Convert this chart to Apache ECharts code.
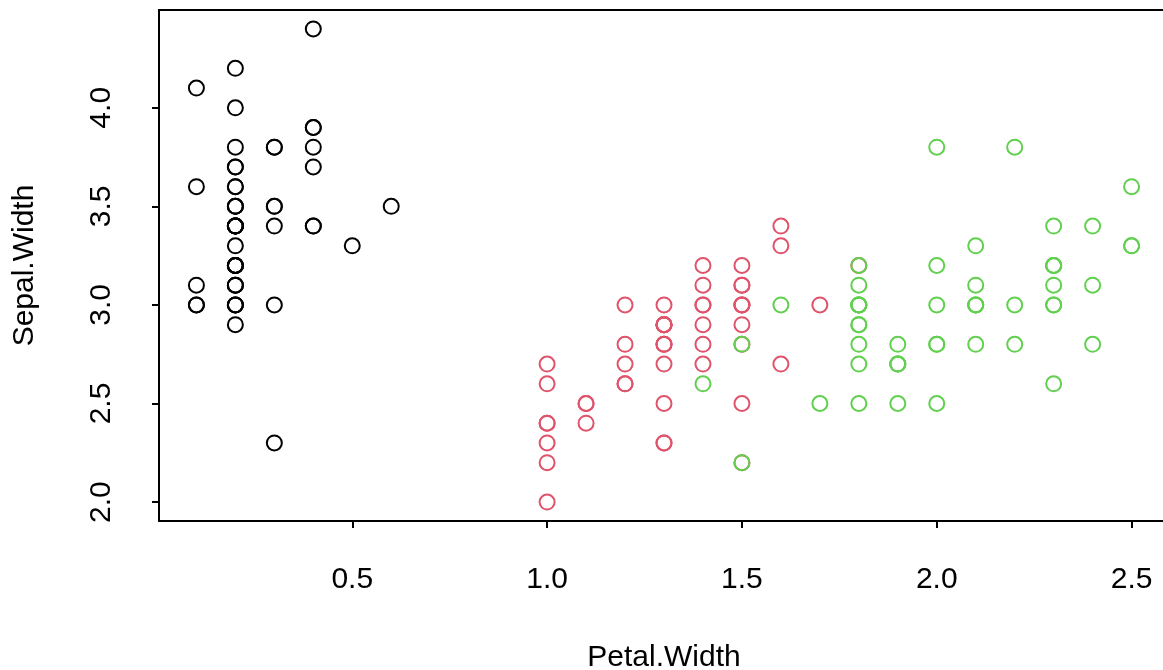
<!DOCTYPE html>
<html>
<head>
<meta charset="utf-8">
<script src="https://cdn.jsdelivr.net/npm/echarts@6/dist/echarts.min.js"></script>
<style>
  html,body{margin:0;padding:0;background:#fff;}
  #main{width:1163px;height:670px;}
</style>
</head>
<body>
<div id="main"></div>
<script>
// iris: Petal.Width (x) / Sepal.Width (y), per species
const setosaPetal = [0.2,0.2,0.2,0.2,0.2,0.4,0.3,0.2,0.2,0.1,0.2,0.2,0.1,0.1,0.2,0.4,0.4,0.3,0.3,0.3,0.2,0.4,0.2,0.5,0.2,0.2,0.4,0.2,0.2,0.2,0.2,0.4,0.1,0.2,0.2,0.2,0.2,0.1,0.2,0.2,0.3,0.3,0.2,0.6,0.4,0.3,0.2,0.2,0.2,0.2]
const setosaSepal = [3.5,3.0,3.2,3.1,3.6,3.9,3.4,3.4,2.9,3.1,3.7,3.4,3.0,3.0,4.0,4.4,3.9,3.5,3.8,3.8,3.4,3.7,3.6,3.3,3.4,3.0,3.4,3.5,3.4,3.2,3.1,3.4,4.1,4.2,3.1,3.2,3.5,3.6,3.0,3.4,3.5,2.3,3.2,3.5,3.8,3.0,3.8,3.2,3.7,3.3]

const versicolorPetal = [1.4,1.5,1.5,1.3,1.5,1.3,1.6,1.0,1.3,1.4,1.0,1.5,1.0,1.4,1.3,1.4,1.5,1.0,1.5,1.1,1.8,1.3,1.5,1.2,1.3,1.4,1.4,1.7,1.5,1.0,1.1,1.0,1.2,1.6,1.5,1.6,1.5,1.3,1.3,1.3,1.2,1.4,1.2,1.0,1.3,1.2,1.3,1.3,1.1,1.3]
const versicolorSepal = [3.2,3.2,3.1,2.3,2.8,2.8,3.3,2.4,2.9,2.7,2.0,3.0,2.2,2.9,2.9,3.1,3.0,2.7,2.2,2.5,3.2,2.8,2.5,2.8,2.9,3.0,2.8,3.0,2.9,2.6,2.4,2.4,2.7,2.7,3.0,3.4,3.1,2.3,3.0,2.5,2.6,3.0,2.6,2.3,2.7,3.0,2.9,2.9,2.5,2.8]

const virginicaPetal = [2.5,1.9,2.1,1.8,2.2,2.1,1.7,1.8,1.8,2.5,2.0,1.9,2.1,2.0,2.4,2.3,1.8,2.2,2.3,1.5,2.3,2.0,2.0,1.8,2.1,1.8,1.8,1.8,2.1,1.6,1.9,2.0,2.2,1.5,1.4,2.3,2.4,1.8,1.8,2.1,2.4,2.3,1.9,2.3,2.5,2.3,1.9,2.0,2.3,1.8]
const virginicaSepal = [3.3,2.7,3.0,2.9,3.0,3.0,2.5,2.9,2.5,3.6,3.2,2.7,3.0,2.5,2.8,3.2,3.0,3.8,2.6,2.2,3.2,2.8,2.8,2.7,3.3,3.2,2.8,3.0,2.8,3.0,2.8,3.8,2.8,2.8,2.6,3.0,3.4,3.1,3.0,3.1,3.1,3.1,2.7,3.2,3.3,3.0,2.5,3.0,3.4,3.0]

const xTicks = [0.5,1.0,1.5,2.0,2.5]
const yTicks = [2.0,2.5,3.0,3.5,4.0]

const font = 'Liberation Sans, Arial, sans-serif'

function pts(xs, ys) {
  return xs.map((x, i) => [x, ys[i]])
}

function serie(name, xs, ys, color) {
  return {
    name: name,
    type: 'scatter',
    symbol: 'circle',
    symbolSize: 15,
    itemStyle: {
      color: 'rgba(0,0,0,0)',
      borderColor: color,
      borderWidth: 2,
      opacity: 1
    },
    emphasis: { disabled: true },
    data: pts(xs, ys)
  }
}

const myChart = echarts.init(document.getElementById('main'))

const option = {
  animation: false,
  grid: {
    left: 159,
    top: 10,
    width: 1010,
    height: 511,
    outerBoundsMode: 'none',
    containLabel: false,
    show: true,
    borderColor: '#000',
    borderWidth: 2,
    backgroundColor: 'transparent'
  },
  xAxis: {
    type: 'value',
    min: 0.004,
    max: 2.596,
    name: 'Petal.Width',
    nameLocation: 'middle',
    nameGap: 122,
    nameTextStyle: { color: '#000', fontSize: 30, fontFamily: font },
    axisLine: { show: true, lineStyle: { color: '#000', width: 2 } },
    axisTick: { show: true, length: 7, lineStyle: { color: '#000', width: 2 }, customValues: xTicks },
    axisLabel: {
      color: '#000', fontSize: 30, fontFamily: font, margin: 44,
      customValues: xTicks,
      formatter: v => v.toFixed(1)
    },
    splitLine: { show: false }
  },
  yAxis: {
    type: 'value',
    min: 1.904,
    max: 4.496,
    name: 'Sepal.Width',
    nameLocation: 'middle',
    nameRotate: 90,
    nameGap: 119,
    nameTextStyle: { color: '#000', fontSize: 30, fontFamily: font },
    axisLine: { show: true, lineStyle: { color: '#000', width: 2 } },
    axisTick: { show: true, length: 7, lineStyle: { color: '#000', width: 2 }, customValues: yTicks },
    axisLabel: {
      color: '#000', fontSize: 30, fontFamily: font, margin: 42, rotate: 90,
      customValues: yTicks,
      formatter: v => v.toFixed(1)
    },
    splitLine: { show: false }
  },
  series: [
    serie('setosa', setosaPetal, setosaSepal, '#000000'),
    serie('versicolor', versicolorPetal, versicolorSepal, '#DF536B'),
    serie('virginica', virginicaPetal, virginicaSepal, '#61D04F')
  ]
}

myChart.setOption(option)
</script>
</body>
</html>
